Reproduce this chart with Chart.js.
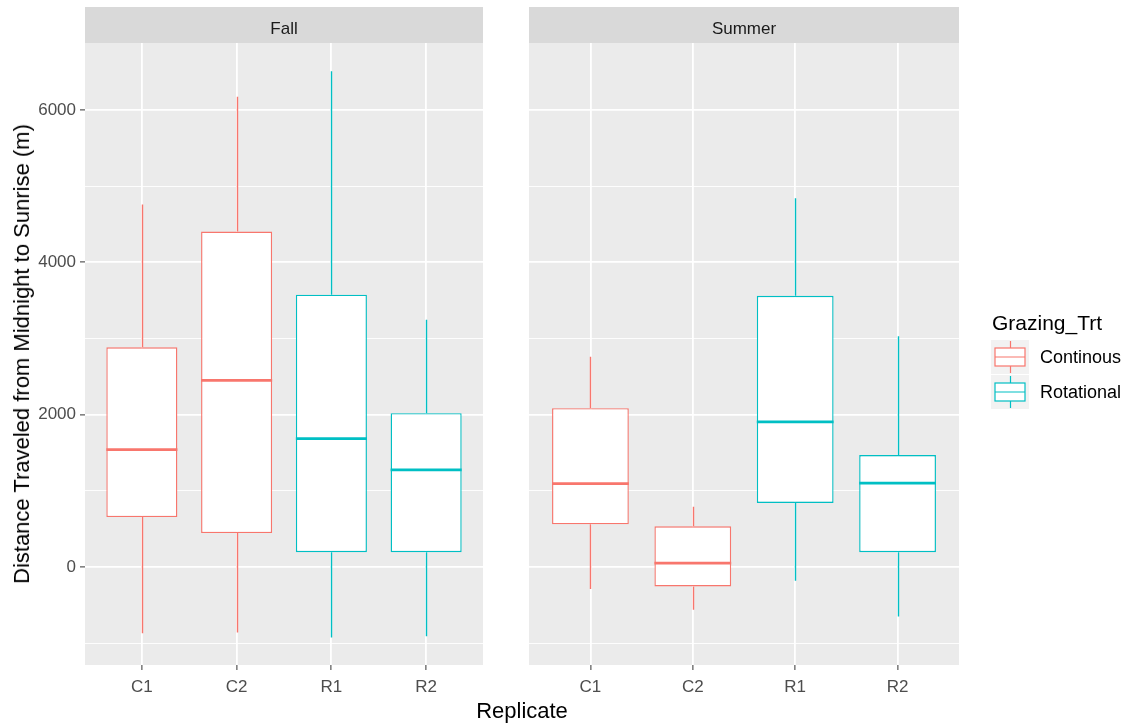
<!DOCTYPE html>
<html>
<head>
<meta charset="utf-8">
<script src="https://cdn.jsdelivr.net/npm/chart.js@4"></script>
<style>
  body { margin: 0; background: #fff; font-family: 'Liberation Sans', Arial, sans-serif; }
  #wrap { position: relative; width: 1139px; height: 727px; overflow: hidden; }
  canvas { position: absolute; top: 0; }
  .txt { position: absolute; white-space: nowrap; transform: translate(-50%, -50%); }
  .strip { font-size: 17px; color: #1A1A1A; top: 29px; }
  .leg { position: absolute; white-space: nowrap; transform: translateY(-50%); color: #000; }
</style>
</head>
<body>
<div id="wrap">
  <canvas id="fall" width="490" height="727" style="left:0"></canvas>
  <canvas id="summer" width="649" height="727" style="left:490px"></canvas>
  <div class="txt strip" style="left:284px">Fall</div>
  <div class="txt strip" style="left:744px">Summer</div>
  <div class="txt" style="left:22px; top:354px; font-size:22px; transform: translate(-50%,-50%) rotate(-90deg);">Distance Traveled from Midnight to Sunrise (m)</div>
  <div class="txt" style="left:522px; top:711px; font-size:22px;">Replicate</div>
  <div class="leg" style="left:992px; top:323px; font-size:21px;">Grazing_Trt</div>
  <div class="leg" style="left:1040px; top:357px; font-size:18px;">Continous</div>
  <div class="leg" style="left:1040px; top:392px; font-size:18px;">Rotational</div>
</div>
<script>
// replicates and their treatment group
const reps = ['C1', 'C2', 'R1', 'R2'];
const groups = ['Continous', 'Continous', 'Rotational', 'Rotational'];
const groupNames = ['Continous', 'Rotational'];
const groupColors = ['#F8766D', '#00BFC4'];

// box stats (min, Q1, median, Q3, max)
const fallMin = [-870, -860, -925, -910];
const fallQ1 = [655, 445, 195, 195];
const fallMed = [1540, 2450, 1685, 1275];
const fallQ3 = [2885, 4405, 3575, 2020];
const fallMax = [4760, 6175, 6510, 3245];

const summerMin = [-290, -560, -180, -650];
const summerQ1 = [560, -255, 840, 195];
const summerMed = [1095, 50, 1905, 1100];
const summerQ3 = [2085, 535, 3560, 1470];
const summerMax = [2760, 790, 4840, 3030];

const yTicks = [-1000, 0, 1000, 2000, 3000, 4000, 5000, 6000];
const yMajor = [0, 2000, 4000, 6000];

const FONT = "'Liberation Sans', Arial, sans-serif";

function colorOf(i) {
    return groupColors[groupNames.indexOf(groups[i])];
}

// panel background, strip and whiskers/medians
const boxPlugin = {
    id: 'boxPlugin',
    beforeDraw(chart) {
        const ca = chart.chartArea, ctx = chart.ctx;
        ctx.save();
        ctx.fillStyle = '#EBEBEB';
        ctx.fillRect(ca.left, ca.top, ca.right - ca.left, ca.bottom - ca.top);
        ctx.fillStyle = '#D9D9D9';
        ctx.fillRect(ca.left, 7, ca.right - ca.left, ca.top - 7);
        ctx.restore();
    },
    beforeDatasetsDraw(chart) {
        const st = chart.options.plugins.boxPlugin;
        const x = chart.scales.x, y = chart.scales.y, ctx = chart.ctx;
        ctx.save();
        ctx.lineWidth = 1.4;
        reps.forEach((r, i) => {
            const px = Math.round(x.getPixelForValue(i + 1)) + 0.5;
            ctx.strokeStyle = colorOf(i);
            ctx.beginPath();
            ctx.moveTo(px, y.getPixelForValue(st.q3[i]));
            ctx.lineTo(px, y.getPixelForValue(st.max[i]));
            ctx.moveTo(px, y.getPixelForValue(st.q1[i]));
            ctx.lineTo(px, y.getPixelForValue(st.min[i]));
            ctx.stroke();
        });
        ctx.restore();
    },
    afterDatasetsDraw(chart) {
        const st = chart.options.plugins.boxPlugin;
        const y = chart.scales.y, ctx = chart.ctx;
        const meta = chart.getDatasetMeta(0);
        ctx.save();
        ctx.lineWidth = 2.8;
        meta.data.forEach((bar, i) => {
            const py = y.getPixelForValue(st.med[i]);
            ctx.strokeStyle = colorOf(i);
            ctx.beginPath();
            ctx.moveTo(bar.x - bar.width / 2, py);
            ctx.lineTo(bar.x + bar.width / 2, py);
            ctx.stroke();
        });
        ctx.restore();
    }
};

// legend keys drawn next to the summer panel
const legendKeys = {
    id: 'legendKeys',
    afterDraw(chart) {
        if (!chart.options.plugins.legendKeys.show) return;
        const ctx = chart.ctx;
        const ox = 1010 - 490;
        ctx.save();
        groupColors.forEach((c, k) => {
            const cy = 357 + k * 35;
            ctx.fillStyle = '#F2F2F2';
            ctx.fillRect(ox - 19, cy - 17, 38, 34);
            ctx.strokeStyle = c;
            ctx.fillStyle = '#fff';
            ctx.lineWidth = 1.2;
            ctx.fillRect(ox - 15, cy - 9, 30, 18);
            ctx.strokeRect(ox - 15, cy - 9, 30, 18);
            ctx.beginPath();
            ctx.moveTo(ox - 15, cy); ctx.lineTo(ox + 15, cy);
            ctx.moveTo(ox + 0.5, cy - 9); ctx.lineTo(ox + 0.5, cy - 16);
            ctx.moveTo(ox + 0.5, cy + 9); ctx.lineTo(ox + 0.5, cy + 16);
            ctx.stroke();
        });
        ctx.restore();
    }
};

function makePanel(id, min, q1, med, q3, max, showY, yWidth, padRight) {
    const ctx = document.getElementById(id).getContext('2d');
    return new Chart(ctx, {
        type: 'bar',
        data: {
            datasets: [{
                data: reps.map((r, i) => ({ x: i + 1, y: [q1[i], q3[i]] })),
                backgroundColor: '#FFFFFF',
                borderColor: reps.map((r, i) => colorOf(i)),
                borderWidth: 1.4,
                borderSkipped: false,
                barPercentage: 0.75,
                categoryPercentage: 1
            }]
        },
        options: {
            responsive: false,
            animation: false,
            layout: { padding: { top: 43, right: padRight, left: 0, bottom: 0 } },
            plugins: {
                legend: { display: false },
                tooltip: { enabled: false },
                boxPlugin: { min: min, q1: q1, med: med, q3: q3, max: max },
                legendKeys: { show: !showY }
            },
            scales: {
                x: {
                    type: 'linear',
                    min: 0.4,
                    max: 4.6,
                    offset: false,
                    afterBuildTicks: s => { s.ticks = reps.map((r, i) => ({ value: i + 1 })); },
                    afterFit: s => { s.height = 62; },
                    ticks: {
                        autoSkip: false,
                        callback: v => reps[v - 1],
                        font: { family: FONT, size: 17 },
                        color: '#4D4D4D',
                        padding: 7
                    },
                    grid: { offset: false, color: '#FFFFFF', lineWidth: 1.8, tickColor: '#333333', tickLength: 5, tickWidth: 1 },
                    border: { display: false }
                },
                y: {
                    min: -1287,
                    max: 6880,
                    afterBuildTicks: s => { s.ticks = yTicks.map(v => ({ value: v })); },
                    afterFit: s => { s.width = yWidth; },
                    ticks: {
                        display: showY,
                        autoSkip: false,
                        callback: v => (yMajor.includes(v) ? String(v) : ''),
                        font: { family: FONT, size: 17 },
                        color: '#4D4D4D',
                        padding: 4
                    },
                    grid: {
                        color: '#FFFFFF',
                        lineWidth: c => (yMajor.includes(c.tick.value) ? 1.8 : 0.9),
                        tickColor: c => (showY && yMajor.includes(c.tick.value) ? '#333333' : 'rgba(0,0,0,0)'),
                        tickLength: 5,
                        tickWidth: 1
                    },
                    border: { display: false }
                }
            }
        },
        plugins: [boxPlugin, legendKeys]
    });
}

makePanel('fall', fallMin, fallQ1, fallMed, fallQ3, fallMax, true, 85, 7);
makePanel('summer', summerMin, summerQ1, summerMed, summerQ3, summerMax, false, 39, 180);
</script>
</body>
</html>
